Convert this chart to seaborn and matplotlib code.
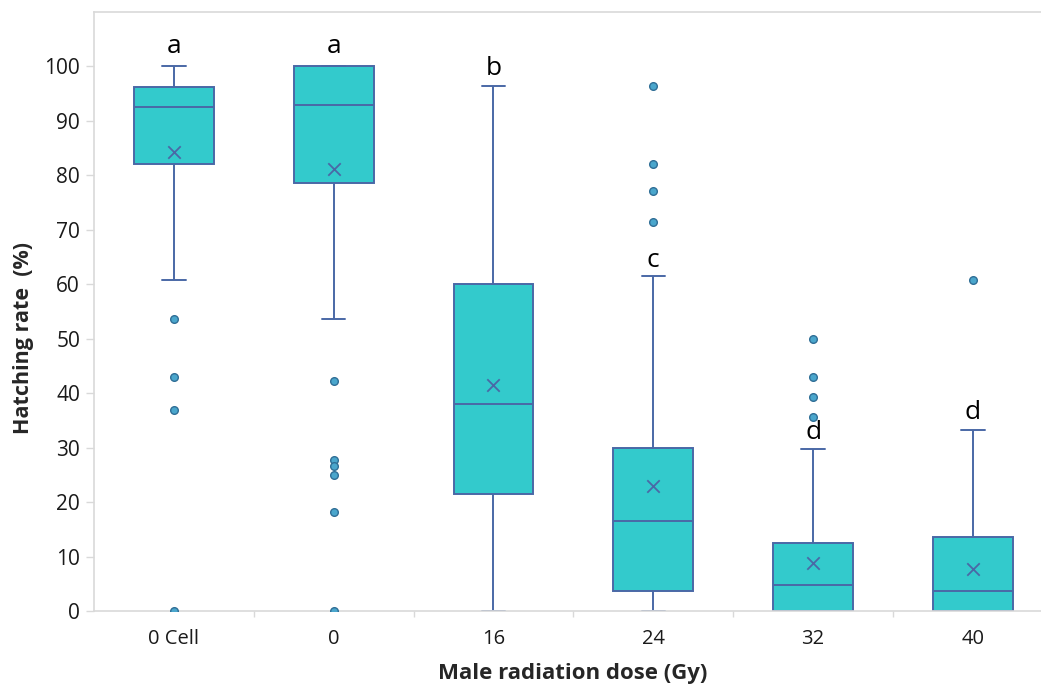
import numpy as np
import pandas as pd
import matplotlib
matplotlib.use("Agg")
import matplotlib.pyplot as plt
import seaborn as sns

# ---- data ----
categories   = ["0 Cell", "0", "16", "24", "32", "40"]
whisker_low  = [60.7, 53.6, 0.0, 0.0, 0.0, 0.0]
q1           = [82.1, 78.6, 21.5, 3.6, 0.0, 0.0]
median       = [92.6, 93.0, 38.0, 16.5, 4.8, 3.6]
q3           = [96.3, 100.0, 60.0, 30.0, 12.5, 13.6]
whisker_high = [100.0, 100.0, 96.4, 61.6, 29.7, 33.3]
means        = [84.3, 81.2, 41.5, 23.0, 8.9, 7.7]
outliers = {
    "0 Cell": [53.6, 42.9, 36.9, 0.0],
    "0":      [42.3, 27.8, 26.7, 25.0, 18.2, 0.0],
    "16":     [],
    "24":     [96.4, 82.1, 77.2, 71.5],
    "32":     [50.0, 42.9, 39.3, 35.7],
    "40":     [60.7],
}
letters     = ["a", "a", "b", "c", "d", "d"]
letter_y    = [102.4, 102.4, 98.5, 63.2, 31.5, 35.2]

# ---- tables built from the arrays ----
box_rows = []
for i, c in enumerate(categories):
    for v in (whisker_low[i], q1[i], median[i], q3[i], whisker_high[i]):
        box_rows.append({"dose": c, "rate": v})
box_df = pd.DataFrame(box_rows)
out_df = pd.DataFrame([{"dose": c, "rate": v} for c in categories for v in outliers[c]])
mean_df = pd.DataFrame({"dose": categories, "rate": means})

sns.set_theme(style="white")
plt.rcParams["font.family"] = ["Open Sans", "DejaVu Sans"]

fill_c = "#33CACC"
edge_c = "#4A68A6"
grid_c = "#D9D9D9"

fig = plt.figure(figsize=(10.41, 6.85), dpi=100)
ax = fig.add_axes([0.0903, 0.108, 0.921, 0.8745])

sns.boxplot(data=box_df, x="dose", y="rate", order=categories, whis=(0, 100),
            width=0.5, color=fill_c, linecolor=edge_c, linewidth=1.4,
            showfliers=False, saturation=1, ax=ax,
            boxprops=dict(facecolor=fill_c, edgecolor=edge_c),
            capprops=dict(color=edge_c), whiskerprops=dict(color=edge_c),
            medianprops=dict(color=edge_c))

# shorten caps
for line in ax.lines:
    xd = np.asarray(line.get_xdata(), dtype=float)
    yd = np.asarray(line.get_ydata(), dtype=float)
    if len(xd) == 2 and yd[0] == yd[1] and abs(xd[1] - xd[0]) > 0 and abs(xd[1] - xd[0]) < 0.4:
        cx = (xd[0] + xd[1]) / 2
        line.set_xdata([cx - 0.073, cx + 0.073])

sns.stripplot(data=out_df, x="dose", y="rate", order=categories, jitter=False,
              color="#4AA6CC", edgecolor="#2F6E96", linewidth=1.0, size=5.5, ax=ax)
sns.scatterplot(data=mean_df, x="dose", y="rate", marker="x", color=edge_c,
                s=80, linewidth=1.3, ax=ax, zorder=5)

for i, (t, yv) in enumerate(zip(letters, letter_y)):
    ax.text(i, yv, t, ha="center", va="baseline", fontsize=19, color="black")

ax.set_xlim(-0.5, 5.5)
ax.set_ylim(0, 110)
ax.set_yticks(np.arange(0, 101, 10))
ax.set_xticks(range(len(categories)))
ax.set_xticklabels(categories)
ax.set_xticks(np.arange(0.5, 5.5, 1.0), minor=True)
ax.tick_params(axis="y", which="major", length=6, color=grid_c, width=1, labelsize=15,
               pad=4, left=True, labelcolor="#1a1a1a")
ax.tick_params(axis="x", which="major", length=0, labelsize=14.5, pad=13, labelcolor="#1a1a1a")
ax.tick_params(axis="x", which="minor", length=4, color=grid_c, width=1, bottom=True)

for s in ["left", "top", "bottom"]:
    ax.spines[s].set_color(grid_c)
    ax.spines[s].set_linewidth(1.2)
ax.spines["right"].set_visible(False)

ax.set_xlabel("Male radiation dose (Gy)", fontsize=16, fontweight="bold")
ax.set_ylabel("Hatching rate  (%)", fontsize=15.5, fontweight="bold")
ax.xaxis.set_label_coords(0.4995, -0.105)
ax.yaxis.set_label_coords(-0.074, 0.456)
ax.xaxis.label.set_va("center")
ax.yaxis.label.set_va("center")

fig.savefig("out.png", dpi=100)
